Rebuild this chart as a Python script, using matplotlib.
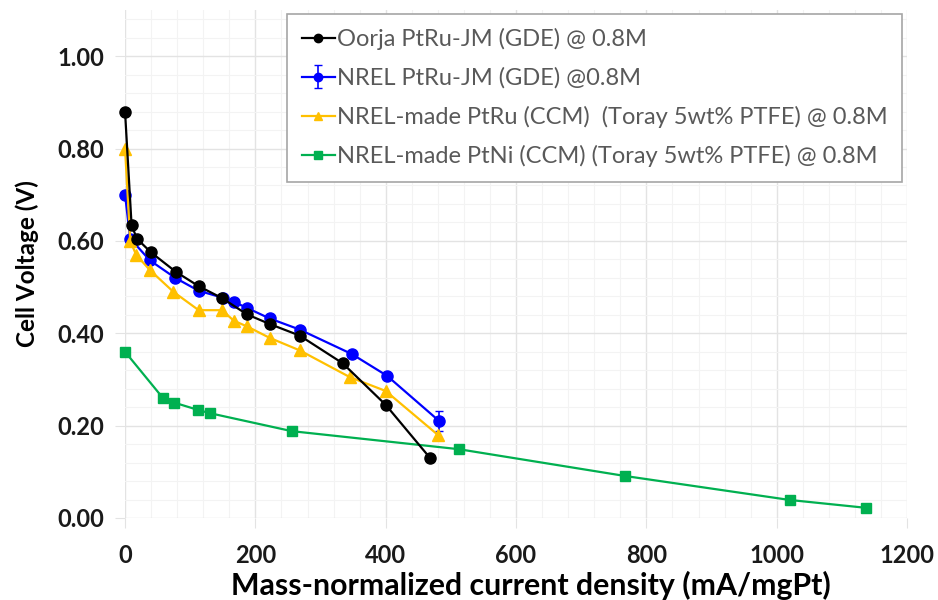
import matplotlib
matplotlib.use("Agg")
import matplotlib.pyplot as plt
from matplotlib.ticker import MultipleLocator, FormatStrFormatter

plt.rcParams['font.family'] = ['Lato', 'DejaVu Sans']

# Oorja PtRu-JM (GDE) @ 0.8M
oorja_x = [0, 10, 18, 40, 78, 113, 149, 187, 222, 268, 334, 400, 468]
oorja_y = [0.88, 0.635, 0.605, 0.575, 0.533, 0.502, 0.476, 0.441, 0.420, 0.395, 0.335, 0.245, 0.130]

# NREL PtRu-JM (GDE) @0.8M
nrel_jm_x = [0, 8, 38, 77, 113, 150, 167, 187, 222, 268, 348, 402, 482]
nrel_jm_y = [0.70, 0.605, 0.558, 0.520, 0.492, 0.477, 0.468, 0.455, 0.432, 0.408, 0.355, 0.308, 0.210]
nrel_jm_err = [0, 0, 0, 0, 0, 0, 0, 0, 0, 0, 0, 0, 0.022]

# NREL-made PtRu (CCM)
ptru_x = [0, 8, 17, 38, 74, 113, 149, 167, 187, 222, 268, 345, 400, 480]
ptru_y = [0.80, 0.600, 0.570, 0.537, 0.490, 0.450, 0.450, 0.427, 0.415, 0.390, 0.363, 0.305, 0.275, 0.180]

# NREL-made PtNi (CCM)
ptni_x = [0, 58, 75, 112, 130, 256, 512, 767, 1020, 1137]
ptni_y = [0.36, 0.260, 0.250, 0.234, 0.227, 0.188, 0.149, 0.091, 0.039, 0.022]

labels = ['Oorja PtRu-JM (GDE) @ 0.8M',
          'NREL PtRu-JM (GDE) @0.8M',
          'NREL-made PtRu (CCM)  (Toray 5wt% PTFE) @ 0.8M',
          'NREL-made PtNi (CCM) (Toray 5wt% PTFE) @ 0.8M']

fig = plt.figure(figsize=(9.38, 6.0), dpi=100)
ax = fig.add_axes([0.1333, 0.1367, 0.8337, 0.8466])

h_blue = ax.errorbar(nrel_jm_x, nrel_jm_y, yerr=nrel_jm_err, color='#0000FF', marker='o', ms=8,
                     lw=1.6, capsize=3, elinewidth=1.2, zorder=3, clip_on=False)
h_green, = ax.plot(ptni_x, ptni_y, color='#00B050', marker='s', ms=7, lw=1.6, zorder=3, clip_on=False)
h_yellow, = ax.plot(ptru_x, ptru_y, color='#FFC000', marker='^', ms=8, lw=1.6, zorder=4, clip_on=False)
h_black, = ax.plot(oorja_x, oorja_y, color='black', marker='o', ms=8, lw=1.6, zorder=5, clip_on=False)

ax.set_xlim(0, 1200)
ax.set_ylim(0, 1.1)
ax.xaxis.set_major_locator(MultipleLocator(200))
ax.xaxis.set_minor_locator(MultipleLocator(40))
ax.yaxis.set_major_locator(MultipleLocator(0.2))
ax.yaxis.set_minor_locator(MultipleLocator(0.04))
ax.yaxis.set_major_formatter(FormatStrFormatter('%.2f'))

ax.grid(which='major', color='#e3e3e3', lw=1.0, zorder=0)
ax.grid(which='minor', color='#f3f3f3', lw=0.8, zorder=0)
ax.set_axisbelow(True)
for s in ax.spines.values():
    s.set_visible(False)
ax.tick_params(which='major', length=7, color='#e3e3e3', labelsize=17, pad=8)
ax.tick_params(axis='x', pad=12)
ax.tick_params(which='minor', length=0)
for lab in ax.get_xticklabels() + ax.get_yticklabels():
    lab.set_fontweight('bold')
    lab.set_color('#1a1a1a')

ax.set_xlabel('Mass-normalized current density (mA/mgPt)', fontsize=21.8, fontweight='bold', labelpad=2)
ax.xaxis.set_label_coords(0.519, -0.105)
ax.set_ylabel('Cell Voltage (V)', fontsize=17.5, fontweight='bold', labelpad=13)

leg = ax.legend([h_black, h_blue, h_yellow, h_green], labels,
                loc='upper left', bbox_to_anchor=(0.207, 0.993), borderaxespad=0,
                fontsize=17, frameon=True, fancybox=False, edgecolor='#a6a6a6', framealpha=1,
                handlelength=1.4, handletextpad=0.1, labelspacing=0.72,
                borderpad=0.62, markerscale=0.75)
leg.get_frame().set_linewidth(1.2)
for t in leg.get_texts():
    t.set_color('#595959')

fig.savefig('out.png', dpi=100)
